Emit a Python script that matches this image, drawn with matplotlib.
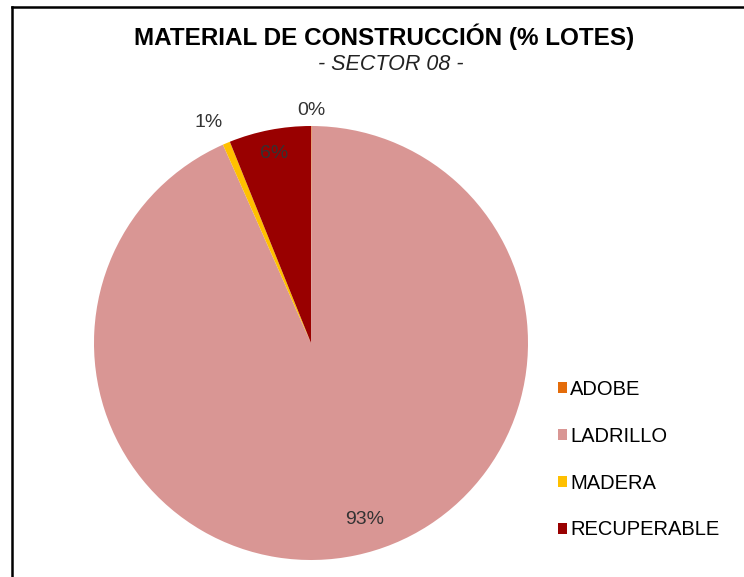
import matplotlib
matplotlib.use("Agg")
import matplotlib.pyplot as plt
import numpy as np
from matplotlib.patches import Patch
from matplotlib.lines import Line2D

plt.rcParams['font.family'] = ['Liberation Sans', 'DejaVu Sans']

materiales = ["ADOBE", "LADRILLO", "MADERA", "RECUPERABLE"]
porcentajes = [0.05, 93.3, 0.55, 6.1]
etiquetas = ["0%", "93%", "1%", "6%"]
colores = ["#E46C0A", "#D99694", "#FFC000", "#990000"]
# distancia radial y giro de cada etiqueta
dist = [1.07, 0.85, 1.12, 0.89]
giro = [0, 5, 2, 0]

fig = plt.figure(figsize=(7.44, 5.77), dpi=100)
fig.patch.set_facecolor("white")

# marco del grafico
fig.add_artist(Line2D([12/744, 12/744], [0, 1 - 7/577], color="black", lw=1.8, transform=fig.transFigure))
fig.add_artist(Line2D([12/744, 1], [1 - 7/577, 1 - 7/577], color="black", lw=1.8, transform=fig.transFigure))

fig.text(384/744, 1 - 37/577, "MATERIAL DE CONSTRUCCIÓN (% LOTES)", ha="center", va="center",
         fontsize=17.5, fontweight="bold")
fig.text(391/744, 1 - 65/577, "- SECTOR 08 -", ha="center", va="center",
         fontsize=15.5, style="italic", color="#222222")

ax = fig.add_axes([94/744, 1 - 560/577, 434/744, 434/577])
wedges, _ = ax.pie(porcentajes, colors=colores, startangle=90, counterclock=False,
                   radius=1, wedgeprops=dict(linewidth=0))
for w, lab, d, g in zip(wedges, etiquetas, dist, giro):
    ang = np.deg2rad((w.theta1 + w.theta2) / 2 + g)
    ax.text(d * np.cos(ang), d * np.sin(ang), lab, ha="center", va="center",
            fontsize=14, color="#333333")
ax.set_xlim(-1, 1)
ax.set_ylim(-1, 1)
ax.set_aspect("equal")
ax.axis("off")

handles = [Patch(facecolor=c, edgecolor="none") for c in colores]
fig.legend(handles, materiales, loc="upper left", bbox_to_anchor=(550/744, 1 - 372/577),
           frameon=False, fontsize=14.5, handlelength=0.45, handleheight=0.45,
           handletextpad=0.15, labelspacing=1.38, borderaxespad=0)

fig.savefig("out.png", dpi=100)
